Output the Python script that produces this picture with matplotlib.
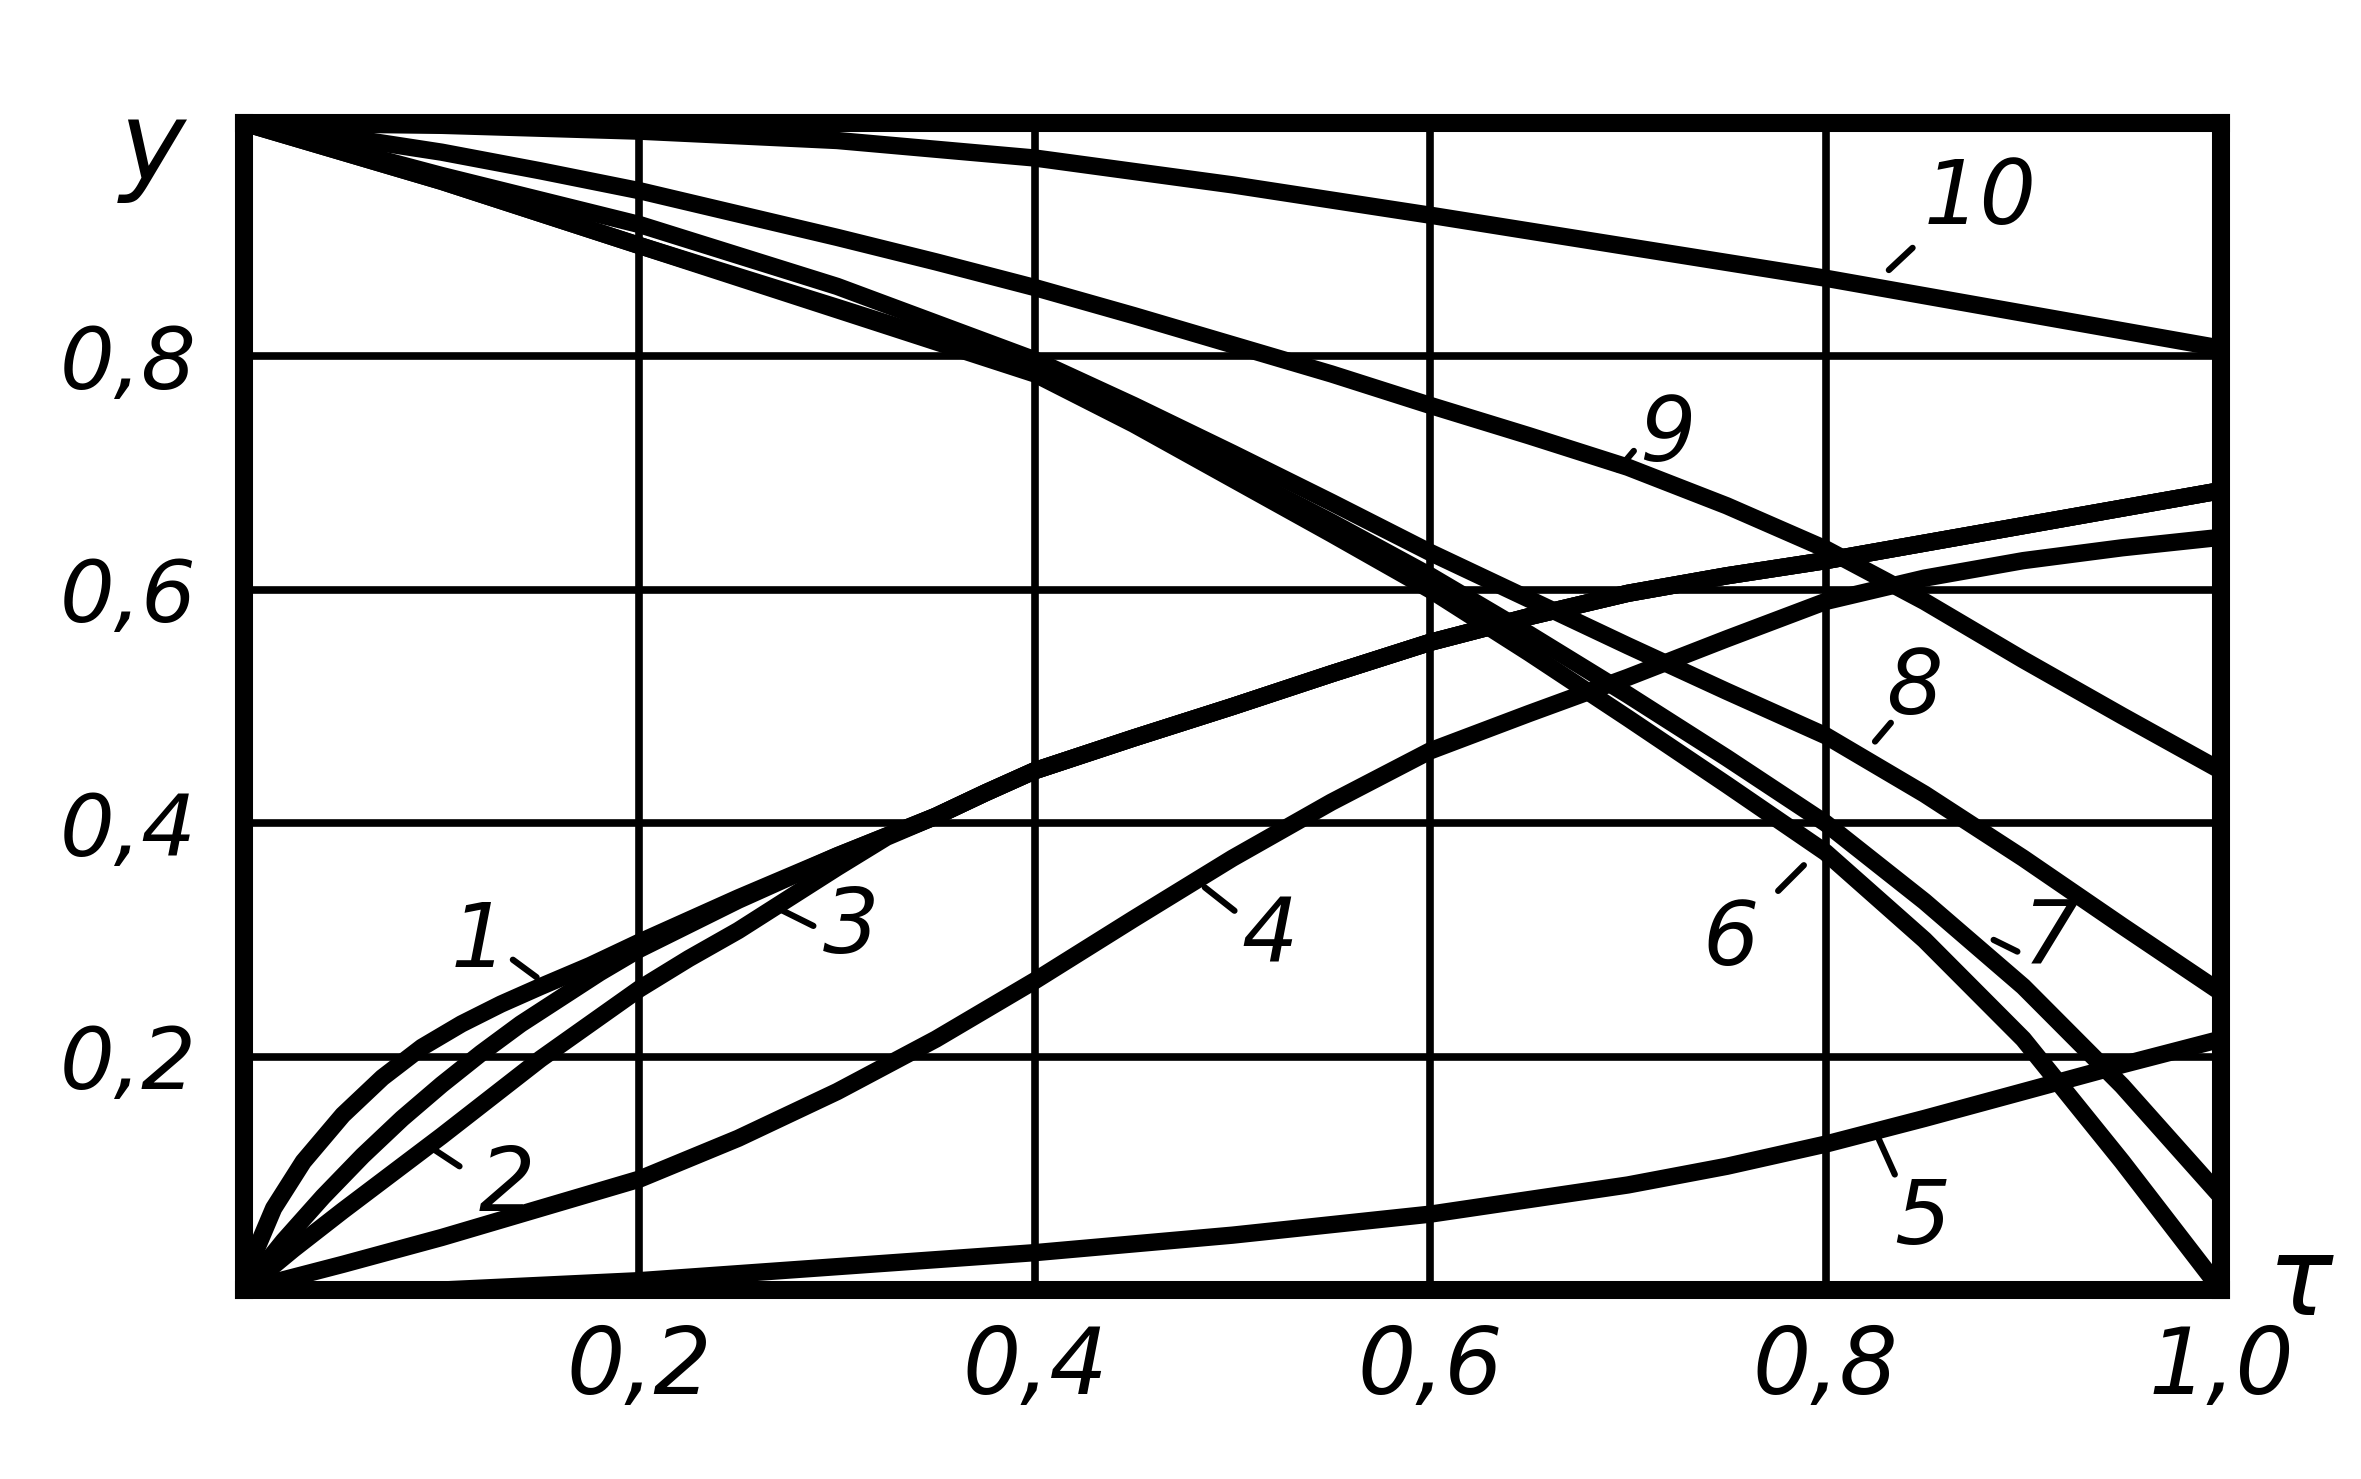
import matplotlib
matplotlib.use("Agg")
import matplotlib.pyplot as plt

# ---- data ----
x_ticks = [0.2, 0.4, 0.6, 0.8, 1.0]
x_tick_labels = ["0,2", "0,4", "0,6", "0,8", "1,0"]
y_ticks = [0.2, 0.4, 0.6, 0.8]
y_tick_labels = ["0,2", "0,4", "0,6", "0,8"]

c1_x = [0, 0.005, 0.015, 0.03, 0.05, 0.07, 0.09, 0.11, 0.13, 0.15, 0.175, 0.2, 0.225, 0.25, 0.275,
        0.3, 0.325, 0.35, 0.375, 0.4, 0.45, 0.5, 0.55, 0.6, 0.65, 0.7, 0.75, 0.8, 0.85, 0.9, 0.95, 1.0]
c1_y = [0, 0.03, 0.07, 0.11, 0.15, 0.182, 0.208, 0.228, 0.245, 0.26, 0.278, 0.298, 0.317, 0.336, 0.354,
        0.372, 0.389, 0.406, 0.426, 0.445, 0.473, 0.50, 0.528, 0.555, 0.577, 0.597, 0.612, 0.625, 0.64, 0.655, 0.67, 0.685]
c2_x = [0, 0.02, 0.04, 0.06, 0.08, 0.10, 0.12, 0.14, 0.16, 0.18, 0.2, 0.225, 0.25, 0.275,
        0.3, 0.325, 0.35, 0.375, 0.4, 0.45, 0.5, 0.55, 0.6, 0.65, 0.7, 0.75, 0.8, 0.85, 0.9, 0.95, 1.0]
c2_y = [0, 0.042, 0.08, 0.115, 0.147, 0.176, 0.203, 0.228, 0.25, 0.272, 0.292, 0.313, 0.334, 0.353,
        0.372, 0.389, 0.406, 0.426, 0.445, 0.473, 0.50, 0.528, 0.555, 0.577, 0.597, 0.612, 0.625, 0.64, 0.655, 0.67, 0.685]
c3_x = [0, 0.025, 0.05, 0.075, 0.1, 0.125, 0.15, 0.175, 0.2, 0.225, 0.25, 0.275,
        0.3, 0.325, 0.35, 0.375, 0.4, 0.45, 0.5, 0.55, 0.6, 0.65, 0.7, 0.75, 0.8, 0.85, 0.9, 0.95, 1.0]
c3_y = [0, 0.035, 0.068, 0.1, 0.132, 0.165, 0.198, 0.228, 0.258, 0.284, 0.308, 0.335,
        0.362, 0.388, 0.406, 0.426, 0.445, 0.473, 0.50, 0.528, 0.555, 0.577, 0.597, 0.612, 0.625, 0.64, 0.655, 0.67, 0.685]
c4_x = [0, 0.05, 0.1, 0.15, 0.2, 0.25, 0.3, 0.35, 0.4, 0.45, 0.5, 0.55, 0.6, 0.65, 0.7, 0.75,
        0.8, 0.85, 0.9, 0.95, 1.0]
c4_y = [0, 0.022, 0.045, 0.07, 0.095, 0.13, 0.17, 0.215, 0.265, 0.318, 0.37, 0.418, 0.462, 0.494, 0.525, 0.558,
        0.59, 0.61, 0.625, 0.636, 0.645]
c5_x = [0, 0.1, 0.2, 0.3, 0.4, 0.5, 0.6, 0.7, 0.75, 0.8, 0.85, 0.9, 0.95, 1.0]
c5_y = [0, 0.0, 0.008, 0.02, 0.032, 0.047, 0.065, 0.09, 0.106, 0.125, 0.147, 0.17, 0.193, 0.215]
c6_x = [0, 0.1, 0.2, 0.3, 0.4, 0.45, 0.5, 0.55, 0.6, 0.65, 0.7, 0.75, 0.8, 0.85, 0.9, 0.95, 1.0]
c6_y = [1.0, 0.95, 0.895, 0.84, 0.785, 0.742, 0.695, 0.648, 0.6, 0.546, 0.49, 0.433, 0.375, 0.3, 0.215, 0.11, 0.0]
c7_x = [0, 0.1, 0.2, 0.3, 0.4, 0.45, 0.5, 0.55, 0.6, 0.65, 0.7, 0.75, 0.8, 0.85, 0.9, 0.95, 1.0]
c7_y = [1.0, 0.95, 0.895, 0.842, 0.788, 0.746, 0.702, 0.658, 0.612, 0.562, 0.51, 0.456, 0.40, 0.333, 0.26, 0.175, 0.08]
c8_x = [0, 0.1, 0.2, 0.3, 0.4, 0.45, 0.5, 0.55, 0.6, 0.65, 0.7, 0.75, 0.8, 0.85, 0.9, 0.95, 1.0]
c8_y = [1.0, 0.955, 0.913, 0.86, 0.797, 0.758, 0.717, 0.675, 0.632, 0.592, 0.552, 0.513, 0.475, 0.425, 0.37, 0.312, 0.255]
c9_x = [0, 0.05, 0.1, 0.15, 0.2, 0.25, 0.3, 0.35, 0.4, 0.45, 0.5, 0.55, 0.6, 0.65, 0.7, 0.75, 0.8, 0.85, 0.9, 0.95, 1.0]
c9_y = [1.0, 0.988, 0.975, 0.959, 0.942, 0.922, 0.902, 0.881, 0.859, 0.835, 0.81, 0.785, 0.758, 0.732, 0.705, 0.672,
        0.635, 0.59, 0.54, 0.492, 0.445]
c10_x = [0, 0.1, 0.2, 0.3, 0.4, 0.5, 0.6, 0.7, 0.8, 0.9, 1.0]
c10_y = [1.0, 0.998, 0.993, 0.985, 0.97, 0.947, 0.921, 0.894, 0.867, 0.837, 0.807]

curve_names = ["1", "2", "3", "4", "5", "6", "7", "8", "9", "10"]
curves_x = [c1_x, c2_x, c3_x, c4_x, c5_x, c6_x, c7_x, c8_x, c9_x, c10_x]
curves_y = [c1_y, c2_y, c3_y, c4_y, c5_y, c6_y, c7_y, c8_y, c9_y, c10_y]

# label text positions and leader line end points (data coords)
label_xy = [(0.119, 0.298), (0.133, 0.089), (0.307, 0.31), (0.519, 0.303), (0.849, 0.061),
            (0.752, 0.30), (0.914, 0.30), (0.845, 0.515), (0.720, 0.732), (0.878, 0.935)]
leader_from = [(0.136, 0.283), (0.109, 0.106), (0.288, 0.312), (0.501, 0.325), (0.835, 0.099),
               (0.776, 0.342), (0.897, 0.29), (0.833, 0.486), (0.703, 0.719), (0.844, 0.893)]
leader_to = [(0.148, 0.268), (0.092, 0.125), (0.269, 0.328), (0.486, 0.345), (0.827, 0.129),
             (0.789, 0.364), (0.885, 0.30), (0.825, 0.47), (0.695, 0.703), (0.832, 0.874)]

# ---- figure ----
W, H = 2361, 1479
fig = plt.figure(figsize=(W / 100, H / 100), dpi=100)
ax = fig.add_axes([244 / W, 1 - 1290 / H, (2221 - 244) / W, (1290 - 123) / H])
ax.set_xlim(0, 1.0)
ax.set_ylim(0, 1.0)

for v in [0.2, 0.4, 0.6, 0.8]:
    ax.axvline(v, color="black", lw=5.5, zorder=1)
    ax.axhline(v, color="black", lw=5.5, zorder=1)

for xs, ys in zip(curves_x, curves_y):
    ax.plot(xs, ys, color="black", lw=12.5, solid_joinstyle="round",
            solid_capstyle="round", zorder=3, clip_on=True)

for name, txy, a, b in zip(curve_names, label_xy, leader_from, leader_to):
    ax.text(txy[0], txy[1], name, fontsize=64, style="italic", ha="center", va="center",
            zorder=5)
    ax.plot([a[0], b[0]], [a[1], b[1]], color="black", lw=4.5, zorder=4,
            solid_capstyle="round")

for s in ax.spines.values():
    s.set_linewidth(13)
    s.set_color("black")

ax.set_xticks(x_ticks)
ax.set_xticklabels(x_tick_labels, fontsize=66, style="italic")
ax.set_yticks(y_ticks)
ax.set_yticklabels(y_tick_labels, fontsize=62, style="italic")
ax.tick_params(axis="both", length=0)
ax.tick_params(axis="x", pad=24)
ax.tick_params(axis="y", pad=34)

ax.text(-0.046, 0.977, "y", fontsize=80, style="italic", ha="center", va="center",
        transform=ax.transData, clip_on=False)
ax.text(1.04, 0.005, "τ", fontsize=78, style="italic", ha="center", va="center",
        transform=ax.transData, clip_on=False)

fig.savefig("out.png", dpi=100, facecolor="white")
